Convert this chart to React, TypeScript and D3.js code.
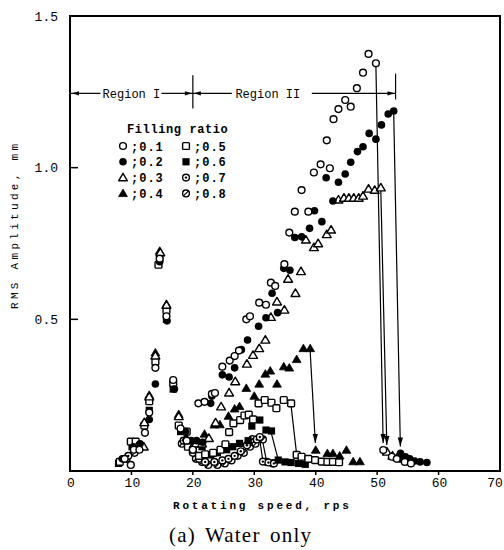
import React from "react";
import * as d3 from "d3";

// ---------- data (speed rps, RMS amplitude mm) ----------
const X_TICKS = [0, 10, 20, 30, 40, 50, 60, 70];
const X_TICK_LABELS = ["0", "10", "20", "30", "40", "50", "60", "70"];
const Y_TICKS = [0.5, 1.0, 1.5];
const Y_TICK_LABELS = ["0.5", "1.0", "1.5"];

const FR01: [number, number][] = [
  [8.9, 0.04], [9.9, 0.02], [10.4, 0.07], [11.3, 0.07], [12.2, 0.126], [12.9, 0.193], [13.9, 0.34], [14.6, 0.7],
  [15.7, 0.51], [16.8, 0.3], [18.0, 0.14], [19.0, 0.1], [20.0, 0.07],
  [20.9, 0.223], [21.9, 0.228], [23.1, 0.254], [23.6, 0.257], [24.8, 0.344], [26.0, 0.364], [26.8, 0.379],
  [27.5, 0.397], [28.7, 0.5], [29.3, 0.51], [30.8, 0.555], [31.9, 0.548], [32.7, 0.621], [33.4, 0.61],
  [34.9, 0.682], [35.7, 0.786], [36.6, 0.855], [37.7, 0.926], [38.8, 0.855], [39.7, 0.984], [40.8, 1.011],
  [41.8, 1.09], [42.3, 0.998], [42.9, 1.16], [43.7, 1.193], [44.8, 1.223], [45.7, 1.201], [46.7, 1.262],
  [47.7, 1.313], [48.6, 1.375], [49.8, 1.344],
  [51.0, 0.069], [52.4, 0.047], [53.2, 0.04], [54.5, 0.03], [55.5, 0.025],
];
const FR02: [number, number][] = [
  [8.5, 0.04], [10.3, 0.08], [11.4, 0.09], [12.9, 0.17], [13.9, 0.287], [14.6, 0.69], [15.8, 0.495], [17.0, 0.27],
  [18.8, 0.13], [19.7, 0.1], [20.6, 0.1], [21.6, 0.095],
  [22.9, 0.223], [23.1, 0.247], [24.8, 0.317], [25.9, 0.31], [26.8, 0.34], [27.9, 0.4], [28.9, 0.432],
  [30.7, 0.477], [31.9, 0.505], [32.9, 0.586], [33.8, 0.522], [34.8, 0.668], [35.8, 0.662], [36.6, 0.77],
  [37.7, 0.772], [39.0, 0.8], [39.8, 0.858], [41.0, 0.822], [41.7, 0.967], [42.8, 0.89], [43.7, 0.952],
  [44.8, 0.979], [45.7, 1.018], [46.8, 1.053], [47.7, 1.069], [48.7, 1.113], [49.8, 1.094], [50.7, 1.141],
  [51.8, 1.177], [52.7, 1.187],
  [53.8, 0.058], [54.6, 0.047], [55.3, 0.04], [56.1, 0.033], [57.0, 0.03], [58.1, 0.028],
];
const FR03: [number, number][] = [
  [10.9, 0.08], [12.0, 0.08], [12.1, 0.16], [12.9, 0.245], [13.9, 0.38], [14.7, 0.72], [15.7, 0.547], [17.7, 0.18],
  [19.1, 0.1], [20.5, 0.09], [21.5, 0.09], [22.6, 0.108], [23.7, 0.159], [24.6, 0.212], [25.9, 0.258],
  [26.9, 0.295], [28.8, 0.353], [29.8, 0.382], [30.8, 0.404], [31.8, 0.432], [32.7, 0.507], [33.7, 0.558],
  [34.9, 0.531], [35.5, 0.633], [36.7, 0.586], [37.6, 0.658], [38.4, 0.762], [39.7, 0.737], [40.4, 0.75],
  [41.8, 0.78], [42.5, 0.795], [43.7, 0.894], [44.6, 0.9], [45.4, 0.9], [46.2, 0.9], [47.0, 0.9], [47.7, 0.907],
  [48.6, 0.93], [49.6, 0.926], [50.6, 0.934],
  [51.6, 0.063], [52.5, 0.05], [53.3, 0.045], [54.3, 0.04],
];
const FR04: [number, number][] = [
  [12.1, 0.16], [12.9, 0.25], [13.9, 0.39], [14.6, 0.725], [15.7, 0.55], [17.7, 0.187], [18.9, 0.11],
  [20.2, 0.09], [21.2, 0.09], [21.9, 0.122], [23.5, 0.152], [24.4, 0.153], [25.8, 0.181], [26.8, 0.205],
  [27.6, 0.213], [28.7, 0.273], [30.0, 0.247], [30.8, 0.287], [31.8, 0.32], [32.6, 0.33], [33.7, 0.287],
  [34.8, 0.344], [35.7, 0.34], [36.9, 0.368], [38.0, 0.404], [39.1, 0.404],
  [40.0, 0.069], [41.9, 0.058], [42.8, 0.058], [43.9, 0.05], [45.0, 0.069], [46.1, 0.031], [47.2, 0.031],
];
const FR05: [number, number][] = [
  [8.1, 0.03], [9.9, 0.097], [10.7, 0.097], [12.1, 0.15], [12.9, 0.23], [13.9, 0.36], [14.4, 0.68], [15.7, 0.53],
  [16.8, 0.29], [17.7, 0.15], [19.0, 0.13], [19.2, 0.08],
  [20.0, 0.07], [21.0, 0.05], [22.0, 0.055], [23.3, 0.06], [24.5, 0.07], [25.3, 0.088], [25.9, 0.128],
  [26.6, 0.157], [27.7, 0.168], [28.4, 0.183], [29.1, 0.186], [29.8, 0.17], [30.7, 0.223], [31.7, 0.234],
  [32.8, 0.225], [33.6, 0.207], [34.8, 0.234], [36.0, 0.223],
  [36.9, 0.053], [37.7, 0.047], [38.8, 0.04], [39.9, 0.036], [41.0, 0.031], [41.9, 0.03], [42.8, 0.03],
  [43.8, 0.029],
];
const FR06: [number, number][] = [
  [7.9, 0.025], [10.1, 0.08], [11.0, 0.09], [12.9, 0.2], [14.6, 0.7], [15.7, 0.5], [16.8, 0.27], [18.0, 0.13],
  [19.5, 0.1], [20.5, 0.095], [21.5, 0.08], [22.9, 0.053], [24.0, 0.06], [25.5, 0.07], [26.5, 0.08],
  [27.6, 0.091], [29.0, 0.1], [29.6, 0.148], [30.9, 0.168], [31.9, 0.135], [32.8, 0.132],
  [33.9, 0.036], [35.0, 0.03], [36.0, 0.028], [37.2, 0.025], [38.3, 0.022],
];
const FR07: [number, number][] = [
  [9.5, 0.05], [11.0, 0.08], [18.5, 0.1],
  [20.0, 0.06], [21.0, 0.04], [22.0, 0.03], [23.5, 0.03], [24.8, 0.035], [25.8, 0.04], [26.8, 0.05],
  [27.8, 0.065], [28.8, 0.085], [29.7, 0.105], [30.4, 0.104], [30.9, 0.112],
  [31.4, 0.031], [32.3, 0.028], [33.2, 0.025],
];
const FR08: [number, number][] = [
  [9.2, 0.04], [10.5, 0.06], [18.2, 0.09],
  [20.5, 0.04], [21.5, 0.03], [22.5, 0.02], [24.0, 0.02], [25.2, 0.025], [26.3, 0.035], [27.3, 0.05],
  [28.3, 0.06], [29.3, 0.08], [30.2, 0.09], [31.4, 0.104],
  [32.0, 0.03], [33.0, 0.025],
];

const SERIES_LABELS = ["0.1", "0.2", "0.3", "0.4", "0.5", "0.6", "0.7", "0.8"];
const SERIES_SHAPES = ["circle", "dot", "tri", "triF", "sq", "sqF", "cdot", "cslash"];
const SERIES_DATA = [FR01, FR02, FR03, FR04, FR05, FR06, FR07, FR08];
// speed of the last point before the sudden drop
const DROP_FROM = [49.8, 52.7, 50.6, 39.1, 36.0, 32.8, 30.9, 31.4];
const DROP_ARROW = [true, true, true, true, false, false, false, false];

const REGION_Y = 1.245;
const REGION_BOUNDS = [0, 20, 53];
const REGION_LABELS = ["Region I", "Region II"];
const REGION_LABEL_AT = [10, 32.2];

// ---------- layout ----------
const W = 504;
const H = 550;
const MONO = "'Liberation Mono', 'DejaVu Sans Mono', monospace";
const SERIF = "'Liberation Serif', 'DejaVu Serif', serif";

const x = d3.scaleLinear().domain([0, 70]).range([70, 500]);
const y = d3.scaleLinear().domain([0, 1.5]).range([471, 16]);

function Marker({ shape, cx, cy }: { shape: string; cx: number; cy: number }) {
  const r = 3.4;
  const sw = 1.4;
  switch (shape) {
    case "circle":
      return <circle cx={cx} cy={cy} r={r} fill="#fff" stroke="#000" strokeWidth={sw} />;
    case "dot":
      return <circle cx={cx} cy={cy} r={r + 0.4} fill="#000" />;
    case "tri":
    case "triF": {
      const p = `M${cx},${cy - 4.3}L${cx + 4.4},${cy + 3.2}L${cx - 4.4},${cy + 3.2}Z`;
      return shape === "tri" ? (
        <path d={p} fill="#fff" stroke="#000" strokeWidth={sw} strokeLinejoin="round" />
      ) : (
        <path d={p} fill="#000" stroke="#000" strokeWidth={0.8} />
      );
    }
    case "sq":
      return <rect x={cx - 3.4} y={cy - 3.4} width={6.8} height={6.8} rx={1} fill="#fff" stroke="#000" strokeWidth={sw} />;
    case "sqF":
      return <rect x={cx - 3.6} y={cy - 3.6} width={7.2} height={7.2} fill="#000" />;
    case "cdot":
      return (
        <g>
          <circle cx={cx} cy={cy} r={r} fill="#fff" stroke="#000" strokeWidth={sw} />
          <circle cx={cx} cy={cy} r={1.2} fill="#000" />
        </g>
      );
    case "cslash":
      return (
        <g>
          <circle cx={cx} cy={cy} r={r} fill="#fff" stroke="#000" strokeWidth={sw} />
          <line x1={cx - 2.3} y1={cy + 2.3} x2={cx + 2.3} y2={cy - 2.3} stroke="#000" strokeWidth={1.2} />
        </g>
      );
    default:
      return null;
  }
}

function Arrow({ tx, ty, dir }: { tx: number; ty: number; dir: "left" | "right" | "down" }) {
  let d = "";
  if (dir === "left") d = `M${tx},${ty}L${tx + 7},${ty - 2.2}L${tx + 7},${ty + 2.2}Z`;
  if (dir === "right") d = `M${tx},${ty}L${tx - 7},${ty - 2.2}L${tx - 7},${ty + 2.2}Z`;
  if (dir === "down") d = `M${tx},${ty}L${tx - 2.6},${ty - 9}L${tx + 2.6},${ty - 9}Z`;
  return <path d={d} fill="#000" />;
}

export default function App() {
  const ry = y(REGION_Y);
  const axisStroke = 2;

  const drops = SERIES_DATA.map((data, i) => {
    const k = data.findIndex((p) => p[0] === DROP_FROM[i]);
    const a = data[k];
    const b = data[k + 1];
    const x1 = x(a[0]);
    const y1 = y(a[1]);
    const x2 = x(b[0]);
    const y2 = y(b[1]);
    const len = Math.hypot(x2 - x1, y2 - y1);
    const cut = DROP_ARROW[i] ? 7 : 3;
    const ex = x2 - ((x2 - x1) / len) * cut;
    const ey = y2 - ((y2 - y1) / len) * cut;
    return { x1, y1: y1 + 3, x2: ex, y2: ey, arrow: DROP_ARROW[i], key: i };
  });

  const order = [7, 6, 5, 4, 3, 2, 1, 0];

  return (
    <svg width={W} height={H} style={{ position: "absolute", left: 0, top: 0, background: "#fff" }}>
      <rect x={0} y={0} width={W} height={H} fill="#fff" />

      {/* frame */}
      <rect x={x(0)} y={y(1.5)} width={x(70) - x(0)} height={y(0) - y(1.5)} fill="none" stroke="#000" strokeWidth={axisStroke} />

      {/* y ticks */}
      {Y_TICKS.map((t, i) => (
        <g key={"yt" + i}>
          <line x1={x(0)} x2={x(0) + 8} y1={y(t)} y2={y(t)} stroke="#000" strokeWidth={1.5} />
          <text x={58} y={y(t) + 4.5} textAnchor="end" fontFamily={MONO} fontSize={13} fill="#000">
            {Y_TICK_LABELS[i]}
          </text>
        </g>
      ))}

      {/* x ticks */}
      {X_TICKS.map((t, i) => (
        <g key={"xt" + i}>
          {i > 0 && i < X_TICKS.length - 1 && (
            <line x1={x(t)} x2={x(t)} y1={y(0)} y2={y(0) + 4} stroke="#000" strokeWidth={1.5} />
          )}
          <text
            x={i === X_TICKS.length - 1 ? x(t) - 5 : x(t) + 1}
            y={487}
            textAnchor="middle"
            fontFamily={MONO}
            fontSize={13}
            fill="#000"
          >
            {X_TICK_LABELS[i]}
          </text>
        </g>
      ))}

      {/* axis titles */}
      <text
        x={173}
        y={509}
        fontFamily={MONO}
        fontSize={11}
        fontWeight="bold"
        letterSpacing={2.8}
        fill="#000"
      >
        Rotating speed, rps
      </text>
      <text
        transform={`translate(18,309) rotate(-90)`}
        fontFamily={MONO}
        fontSize={11}
        letterSpacing={3.3}
        fill="#000"
      >
        RMS Amplitude, mm
      </text>
      <text x={169} y={542} fontFamily={SERIF} fontSize={21} letterSpacing={1.2} wordSpacing={3} fill="#000">
        (a) Water only
      </text>

      {/* region annotation */}
      <g stroke="#000" strokeWidth={1.2}>
        <line x1={x(REGION_BOUNDS[0])} x2={x(REGION_LABEL_AT[0]) - 31} y1={ry} y2={ry} />
        <line x1={x(REGION_LABEL_AT[0]) + 30} x2={x(REGION_BOUNDS[1])} y1={ry} y2={ry} />
        <line x1={x(REGION_BOUNDS[1])} x2={x(REGION_LABEL_AT[1]) - 36} y1={ry} y2={ry} />
        <line x1={x(REGION_LABEL_AT[1]) + 44} x2={x(REGION_BOUNDS[2])} y1={ry} y2={ry} />
        <line x1={x(REGION_BOUNDS[1])} x2={x(REGION_BOUNDS[1])} y1={y(1.305)} y2={y(1.195)} />
        <line x1={x(REGION_BOUNDS[2])} x2={x(REGION_BOUNDS[2])} y1={y(1.31)} y2={y(1.225)} />
      </g>
      <Arrow tx={x(REGION_BOUNDS[0]) + 2} ty={ry} dir="left" />
      <Arrow tx={x(REGION_BOUNDS[1]) - 1} ty={ry} dir="right" />
      <Arrow tx={x(REGION_BOUNDS[1]) + 1} ty={ry} dir="left" />
      <Arrow tx={x(REGION_BOUNDS[2]) - 1} ty={ry} dir="right" />
      {REGION_LABELS.map((lab, i) => (
        <text
          key={lab}
          x={x(REGION_LABEL_AT[i])}
          y={ry + 4.5}
          textAnchor="middle"
          fontFamily={MONO}
          fontSize={12}
          fill="#000"
        >
          {lab}
        </text>
      ))}

      {/* legend */}
      <text x={127} y={133} fontFamily={MONO} fontSize={12} fontWeight="bold" letterSpacing={0.6} fill="#000">
        Filling ratio
      </text>
      {SERIES_LABELS.map((lab, i) => {
        const col = i < 4 ? 0 : 1;
        const row = i % 4;
        const sx = 123 + col * 63;
        const sy = 146 + row * 15.8;
        return (
          <g key={"lg" + i}>
            <Marker shape={SERIES_SHAPES[i]} cx={sx} cy={sy} />
            <text x={sx + 8} y={sy + 4.5} fontFamily={MONO} fontSize={12} fontWeight="bold" letterSpacing={1} fill="#000">
              {";" + lab}
            </text>
          </g>
        );
      })}

      {/* drop lines */}
      {drops.map((d) => (
        <g key={"dr" + d.key}>
          <line x1={d.x1} y1={d.y1} x2={d.x2} y2={d.y2} stroke="#000" strokeWidth={1.2} />
          {d.arrow && <Arrow tx={d.x2} ty={d.y2} dir="down" />}
        </g>
      ))}

      {/* points */}
      {order.map((si) =>
        SERIES_DATA[si].map((p, j) => (
          <Marker key={`p${si}-${j}`} shape={SERIES_SHAPES[si]} cx={x(p[0])} cy={y(p[1])} />
        ))
      )}
    </svg>
  );
}
